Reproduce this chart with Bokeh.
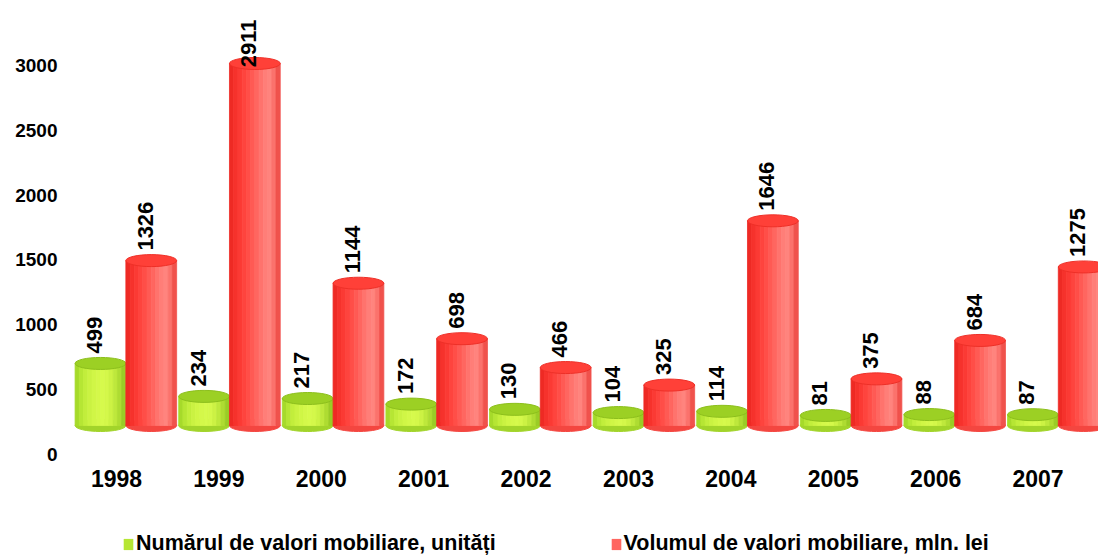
import numpy as np
from bokeh.plotting import figure
from bokeh.models import (ColumnDataSource, Range1d, LinearAxis, FixedTicker,
                          Legend, LegendItem)
from bokeh.layouts import column
from bokeh.embed import file_html
from bokeh.resources import INLINE
from bokeh.core.properties import value

# ---------------- data ----------------
years = ["1998", "1999", "2000", "2001", "2002", "2003", "2004", "2005", "2006", "2007"]
numar = [499, 234, 217, 172, 130, 104, 114, 81, 88, 87]          # Numărul de valori mobiliare, unități
volum = [1326, 2911, 1144, 698, 466, 325, 1646, 375, 684, 1275]  # Volumul de valori mobiliare, mln. lei
y_ticks = [0, 500, 1000, 1500, 2000, 2500, 3000]
series_names = ["Numărul de valori mobiliare, unități",
                "Volumul de valori mobiliare, mln. lei"]

# ---------------- style ----------------
FONT = "Liberation Sans"
BAR_W = 0.49
CAP_H = 12
GREEN_SHADES = ["#a6da2a", "#b6e634", "#c2ee3c", "#caf242", "#d0f646", "#d4f84a",
                "#d6fa4c", "#d4f84a", "#ccf244", "#bee83c", "#aedc32", "#9acc26"]
RED_SHADES = ["#ee2a24", "#f6322c", "#fb3a34", "#fe443e", "#ff4e48", "#ff5a54",
              "#ff6660", "#ff736d", "#ff7e78", "#ff847e", "#fb726c", "#f0524c"]
GREEN_CAP, GREEN_CAP_LINE, GREEN_BASE = "#9cd024", "#8cbf1c", "#a2d42a"
RED_CAP, RED_CAP_LINE, RED_BASE = "#ff4038", "#ee3028", "#f44640"

p = figure(width=1098, height=500, output_backend="svg", toolbar_location=None,
           x_range=Range1d(-0.488, 9.590), y_range=Range1d(-38.6, 3439.5),
           min_border_left=66, min_border_right=0, min_border_top=8,
           min_border_bottom=41, x_axis_type=None, y_axis_type=None,
           outline_line_color=None, background_fill_color="white",
           border_fill_color="white")
# perspective ranges used for the 3-D looking cylinders
p.extra_x_ranges = {"bx": Range1d(-0.328, 9.633)}
p.extra_y_ranges = {"by": Range1d(-273.4, 3353.2)}

xaxis = LinearAxis(ticker=FixedTicker(ticks=list(range(len(years)))),
                   major_label_overrides={i: y for i, y in enumerate(years)},
                   axis_line_color=None, major_tick_line_color=None,
                   minor_tick_line_color=None, major_tick_in=0, major_tick_out=0,
                   minor_tick_in=0, minor_tick_out=0,
                   major_label_standoff=10, major_label_text_font=FONT,
                   major_label_text_font_size="23px",
                   major_label_text_font_style="bold",
                   major_label_text_color="black")
p.add_layout(xaxis, "below")

yaxis = LinearAxis(ticker=FixedTicker(ticks=y_ticks),
                   axis_line_color=None, major_tick_line_color=None,
                   minor_tick_line_color=None, major_tick_in=0, major_tick_out=0,
                   minor_tick_in=0, minor_tick_out=0,
                   major_label_standoff=9, major_label_text_font=FONT,
                   major_label_text_font_size="19px",
                   major_label_text_font_style="bold",
                   major_label_text_color="black")
p.add_layout(yaxis, "left")


def cylinders(values, shift, shades, cap, cap_line, base):
    idx = np.arange(len(values)) + shift
    vals = np.array(values, dtype=float)
    n = len(shades)
    sw = BAR_W / n
    xs, tops, cols = [], [], []
    for x0, v in zip(idx, vals):
        for k, c in enumerate(shades):
            xs.append(x0 - BAR_W / 2 + sw * (k + 0.5))
            tops.append(v)
            cols.append(c)
    # bottom rim
    p.ellipse(x=idx, y=0, width=BAR_W, height=CAP_H, height_units="screen",
              fill_color=base, line_color=base, x_range_name="bx", y_range_name="by")
    # body with horizontal shading
    src = ColumnDataSource(dict(x=xs, top=tops, color=cols))
    p.vbar(x="x", top="top", bottom=0, width=sw, source=src, fill_color="color",
           line_color="color", line_width=0.8, x_range_name="bx", y_range_name="by")
    # top cap
    p.ellipse(x=idx, y=vals, width=BAR_W, height=CAP_H, height_units="screen",
              fill_color=cap, line_color=cap_line, line_width=1,
              x_range_name="bx", y_range_name="by")
    # value labels
    p.text(x=idx, y=np.minimum(vals, 2800), text=[str(v) for v in values],
           angle=np.pi / 2, text_align="left", text_baseline="middle",
           x_offset=-6, y_offset=-10, text_font=value(FONT),
           text_font_size="22px", text_font_style="bold", text_color="black",
           x_range_name="bx", y_range_name="by")
    return src


g_src = cylinders(numar, 0.0, GREEN_SHADES, GREEN_CAP, GREEN_CAP_LINE, GREEN_BASE)
r_src = cylinders(volum, BAR_W, RED_SHADES, RED_CAP, RED_CAP_LINE, RED_BASE)

# ---------------- legend strip (second figure, frames aligned by column) ----------------
q = figure(width=1098, height=56, output_backend="svg", toolbar_location=None,
           x_range=Range1d(0, 1), y_range=Range1d(0, 1), x_axis_type=None,
           y_axis_type=None, min_border=0, outline_line_color=None,
           background_fill_color="white", border_fill_color="white")
g_leg = q.vbar(x="x", top="top", width=0.01, source=g_src, fill_color="color",
               line_color=None, visible=False)
r_leg = q.vbar(x="x", top="top", width=0.01, source=r_src, fill_color="color",
               line_color=None, visible=False)
legend = Legend(items=[LegendItem(label=series_names[0], renderers=[g_leg], index=1),
                       LegendItem(label=series_names[1], renderers=[r_leg], index=6)],
                location=(56, 0), orientation="horizontal", spacing=114,
                padding=0, margin=0, glyph_width=12, glyph_height=14,
                label_standoff=2, label_text_font=FONT, label_text_font_size="21.5px",
                label_text_font_style="bold", label_text_color="black",
                border_line_color=None, background_fill_alpha=0,
                inactive_fill_alpha=0, click_policy="none")
q.add_layout(legend)

layout = column(p, q, spacing=0)
open("out.html", "w").write(file_html(layout, INLINE))
